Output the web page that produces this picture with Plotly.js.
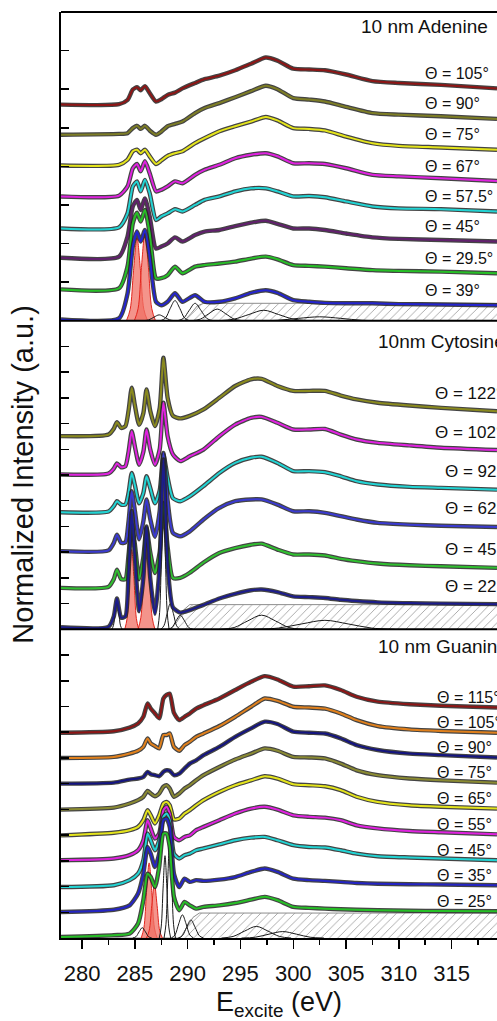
<!DOCTYPE html>
<html><head><meta charset="utf-8">
<script src="https://cdn.plot.ly/plotly-3.0.1.min.js"></script>
<style>html,body{margin:0;padding:0;background:#fff;}#chart{width:497px;height:1021px;}</style>
</head><body><div id="chart"></div>
<script>
// ---------- Adenine panel (top) ----------
const energyA = [278, 283.5, 284.3, 284.8, 285.2, 285.55, 285.95, 286.4, 287.0, 287.5, 288.1, 288.8, 289.5, 290.7, 291.6, 293, 294.5, 296, 297.4, 298.5, 300, 301.5, 303, 305, 307.5, 310, 314, 319.3];
const adenine105 = [5.60, 5.61, 5.72, 5.99, 6.05, 5.97, 6.08, 5.90, 5.68, 5.74, 5.85, 5.91, 6.02, 6.16, 6.26, 6.35, 6.49, 6.66, 6.82, 6.74, 6.53, 6.51, 6.49, 6.38, 6.21, 6.16, 6.11, 6.02];
const adenine90  = [4.82, 4.84, 4.86, 4.99, 5.05, 4.97, 5.05, 4.93, 4.82, 4.90, 5.04, 5.10, 5.16, 5.38, 5.51, 5.64, 5.79, 5.95, 6.09, 6.00, 5.77, 5.73, 5.68, 5.54, 5.38, 5.34, 5.30, 5.23];
const adenine75  = [4.02, 4.04, 4.17, 4.39, 4.43, 4.34, 4.43, 4.26, 4.06, 4.15, 4.27, 4.34, 4.39, 4.60, 4.73, 4.91, 5.04, 5.16, 5.28, 5.19, 4.99, 4.97, 4.93, 4.77, 4.60, 4.53, 4.49, 4.43];
const adenine67  = [3.22, 3.24, 3.48, 3.95, 4.06, 3.87, 4.13, 3.82, 3.35, 3.39, 3.48, 3.61, 3.56, 3.78, 3.91, 4.04, 4.21, 4.30, 4.34, 4.26, 4.08, 4.08, 4.06, 3.95, 3.78, 3.74, 3.69, 3.62];
const adenine575 = [2.39, 2.42, 2.78, 3.48, 3.61, 3.35, 3.65, 3.30, 2.61, 2.70, 2.78, 2.89, 2.83, 3.00, 3.13, 3.22, 3.35, 3.43, 3.43, 3.35, 3.22, 3.23, 3.20, 3.09, 2.96, 2.91, 2.89, 2.83];
const adenine45  = [1.63, 1.66, 2.18, 2.96, 3.13, 2.87, 3.17, 2.70, 1.87, 1.92, 2.00, 2.16, 2.05, 2.22, 2.31, 2.35, 2.45, 2.54, 2.59, 2.51, 2.39, 2.39, 2.35, 2.26, 2.16, 2.12, 2.09, 2.05];
const adenine295 = [0.81, 0.84, 1.40, 2.52, 2.80, 2.57, 2.87, 2.26, 1.10, 1.10, 1.18, 1.40, 1.23, 1.40, 1.44, 1.48, 1.53, 1.61, 1.66, 1.59, 1.44, 1.42, 1.40, 1.36, 1.31, 1.29, 1.27, 1.23];
const adenine39  = [0.03, 0.06, 0.70, 1.92, 2.31, 2.05, 2.35, 1.66, 0.49, 0.40, 0.49, 0.71, 0.49, 0.66, 0.49, 0.49, 0.58, 0.72, 0.79, 0.72, 0.53, 0.49, 0.46, 0.45, 0.45, 0.43, 0.42, 0.40];
const adenineAngles = ['Θ = 105°', 'Θ = 90°', 'Θ = 75°', 'Θ = 67°', 'Θ = 57.5°', 'Θ = 45°', 'Θ = 29.5°', 'Θ = 39°'];
// fit components (Adenine, bottom spectrum)
const adenineStepE = [278, 289.7, 290.3, 290.9, 291.5, 319.3];
const adenineStepV = [0, 0, 0.18, 0.38, 0.45, 0.45];
const adeninePi1E = [284.2, 284.55, 284.87, 285.2, 285.53, 285.85, 286.2];
const adeninePi1V = [0, 0.29, 1.30, 2.14, 1.30, 0.29, 0];
const adeninePi2E = [284.95, 285.3, 285.62, 285.95, 286.28, 286.6, 286.95];
const adeninePi2V = [0, 0.31, 1.38, 2.27, 1.38, 0.31, 0];
const adenineG1E = [285.8, 286.3, 286.8, 287.3, 287.8, 288.3, 288.8];
const adenineG1V = [0, 0.02, 0.09, 0.15, 0.09, 0.02, 0];
const adenineG2E = [287.45, 287.9, 288.35, 288.8, 289.25, 289.7, 290.15];
const adenineG2V = [0, 0.07, 0.32, 0.52, 0.32, 0.07, 0];
const adenineG3E = [289.05, 289.6, 290.15, 290.7, 291.25, 291.8, 292.35];
const adenineG3V = [0, 0.06, 0.27, 0.45, 0.27, 0.06, 0];
const adenineG4E = [290.4, 291.2, 292.0, 292.8, 293.6, 294.4, 295.2];
const adenineG4V = [0, 0.04, 0.18, 0.30, 0.18, 0.04, 0];
const adenineG5E = [293, 294.4, 295.8, 297.2, 298.6, 300, 301.4];
const adenineG5V = [0, 0.04, 0.16, 0.27, 0.16, 0.04, 0];
const adenineG6E = [296.5, 298.5, 300.5, 302.5, 304.5, 306.5, 308.5];
const adenineG6V = [0, 0.01, 0.06, 0.10, 0.06, 0.01, 0];

// ---------- Cytosine panel (middle) ----------
const energyC = [278, 282.5, 283.0, 283.3, 283.7, 284.1, 284.4, 284.7, 285.0, 285.4, 285.8, 286.1, 286.45, 286.9, 287.35, 287.7, 288.1, 288.6, 289.3, 290.2, 291.5, 293, 294.5, 296, 297, 298.5, 300, 301.5, 303, 304.5, 306, 308, 311, 314, 319.3];
const cytosine122 = [7.51, 7.57, 7.80, 8.05, 7.83, 7.90, 8.50, 9.39, 8.70, 7.95, 8.40, 9.33, 8.50, 7.90, 8.60, 10.56, 9.00, 8.30, 8.20, 8.30, 8.55, 9.00, 9.46, 9.72, 9.74, 9.46, 9.27, 9.27, 9.27, 9.09, 8.94, 8.81, 8.70, 8.61, 8.48];
const cytosine102 = [6.02, 6.06, 6.25, 6.45, 6.30, 6.34, 6.90, 7.70, 7.10, 6.40, 6.90, 7.77, 7.00, 6.40, 7.00, 8.81, 7.50, 6.80, 6.54, 6.73, 6.99, 7.51, 7.96, 8.22, 8.26, 8.03, 7.77, 7.77, 7.79, 7.57, 7.38, 7.25, 7.15, 7.06, 6.97];
const cytosine92  = [4.55, 4.58, 4.79, 4.98, 4.85, 4.85, 5.30, 6.08, 5.60, 4.90, 5.30, 5.95, 5.50, 4.90, 5.40, 6.80, 5.90, 5.10, 4.98, 5.17, 5.57, 6.08, 6.47, 6.67, 6.71, 6.47, 6.15, 6.15, 6.11, 5.95, 5.76, 5.63, 5.54, 5.50, 5.43];
const cytosine62  = [3.04, 3.07, 3.36, 3.68, 3.36, 3.38, 4.20, 5.37, 4.60, 3.50, 4.20, 5.05, 4.30, 3.60, 4.60, 6.86, 5.00, 3.75, 3.62, 3.81, 4.27, 4.72, 4.98, 5.05, 5.05, 4.85, 4.59, 4.59, 4.53, 4.40, 4.27, 4.14, 4.07, 4.03, 3.98];
const cytosine45  = [1.61, 1.65, 1.95, 2.32, 1.95, 1.95, 2.90, 4.07, 3.30, 1.95, 2.80, 3.94, 3.00, 2.19, 3.00, 4.90, 3.20, 2.00, 2.00, 2.20, 2.60, 2.97, 3.16, 3.29, 3.33, 3.10, 2.91, 2.91, 2.87, 2.74, 2.65, 2.56, 2.49, 2.45, 2.39];
const cytosine22  = [0.08, 0.10, 0.50, 1.20, 0.45, 0.50, 2.20, 4.60, 2.80, 0.70, 2.00, 4.00, 2.00, 0.60, 2.50, 6.60, 2.50, 0.85, 0.65, 0.75, 0.95, 1.20, 1.38, 1.52, 1.55, 1.45, 1.28, 1.25, 1.22, 1.15, 1.10, 1.05, 1.02, 1.00, 0.98];
const cytosineAngles = ['Θ = 122°', 'Θ = 102°', 'Θ = 92°', 'Θ = 62°', 'Θ = 45°', 'Θ = 22°'];
const cytosineStepE = [278, 288.4, 289.0, 289.6, 290.2, 319.3];
const cytosineStepV = [0, 0, 0.30, 0.75, 0.96, 0.96];
const cytosinePi1E = [284.04, 284.26, 284.48, 284.7, 284.92, 285.14, 285.36];
const cytosinePi1V = [0, 0.42, 1.88, 3.10, 1.88, 0.42, 0];
const cytosinePi2E = [285.3, 285.56, 285.83, 286.1, 286.37, 286.64, 286.9];
const cytosinePi2V = [0, 0.45, 2.05, 3.37, 2.05, 0.45, 0];
const cytosineG1E = [282.8, 282.96, 283.13, 283.3, 283.47, 283.64, 283.8];
const cytosineG1V = [0, 0.14, 0.64, 1.05, 0.64, 0.14, 0];
const cytosineG2E = [287.16, 287.34, 287.52, 287.7, 287.88, 288.06, 288.24];
const cytosineG2V = [0, 0.65, 2.91, 4.80, 2.91, 0.65, 0];
const cytosineG3E = [287.45, 287.75, 288.05, 288.35, 288.65, 288.95, 289.25];
const cytosineG3V = [0, 0.14, 0.61, 1.00, 0.61, 0.14, 0];
const cytosineG4E = [288.1, 288.5, 288.9, 289.3, 289.7, 290.1, 290.5];
const cytosineG4V = [0, 0.07, 0.33, 0.55, 0.33, 0.07, 0];
const cytosineG5E = [293.1, 294.4, 295.7, 297, 298.3, 299.6, 300.9];
const cytosineG5V = [0, 0.07, 0.33, 0.55, 0.33, 0.07, 0];
const cytosineG6E = [296.4, 298.6, 300.8, 303, 305.2, 307.4, 309.6];
const cytosineG6V = [0, 0.05, 0.21, 0.35, 0.21, 0.05, 0];

// ---------- Guanine panel (bottom) ----------
const energyG = [278, 283, 284.5, 285.3, 285.8, 286.2, 286.5, 286.9, 287.3, 287.7, 288.0, 288.3, 288.7, 289.2, 289.7, 290.2, 290.8, 291.5, 293, 294.5, 296, 297.3, 298.5, 300, 301.5, 303, 304.5, 306, 308, 311, 314, 319.3];
const guanine115 = [7.98, 8.04, 8.18, 8.34, 8.60, 9.12, 8.92, 8.73, 8.54, 9.31, 9.45, 9.50, 8.75, 8.47, 8.60, 8.73, 8.92, 9.05, 9.31, 9.64, 9.96, 10.18, 10.05, 9.77, 9.79, 9.82, 9.64, 9.38, 9.19, 9.09, 9.03, 8.96];
const guanine105 = [7.00, 7.04, 7.17, 7.28, 7.43, 7.76, 7.56, 7.46, 7.37, 7.89, 7.89, 7.95, 7.43, 7.28, 7.50, 7.63, 7.82, 7.95, 8.24, 8.60, 8.99, 9.31, 9.22, 8.99, 8.96, 8.92, 8.73, 8.47, 8.24, 8.11, 8.05, 7.98];
const guanine90  = [6.00, 6.04, 6.16, 6.20, 6.26, 6.46, 6.37, 6.33, 6.29, 6.46, 6.52, 6.50, 6.33, 6.39, 6.59, 6.78, 6.91, 7.11, 7.43, 7.82, 8.15, 8.41, 8.32, 8.02, 7.98, 7.95, 7.76, 7.50, 7.31, 7.17, 7.11, 7.02];
const guanine75  = [4.99, 5.07, 5.23, 5.36, 5.49, 5.72, 5.62, 5.51, 5.62, 5.88, 5.94, 5.81, 5.49, 5.62, 5.81, 5.94, 6.13, 6.33, 6.65, 6.94, 7.17, 7.37, 7.28, 7.04, 7.02, 6.98, 6.78, 6.52, 6.33, 6.20, 6.13, 6.04];
const guanine65  = [3.99, 4.09, 4.19, 4.32, 4.58, 4.97, 4.77, 4.45, 4.77, 5.23, 5.29, 5.16, 4.61, 4.64, 4.84, 4.97, 5.16, 5.36, 5.68, 5.94, 6.13, 6.29, 6.20, 5.98, 5.94, 5.90, 5.75, 5.49, 5.29, 5.16, 5.10, 5.03];
const guanine55  = [3.02, 3.09, 3.22, 3.41, 3.80, 4.58, 4.26, 3.87, 4.06, 4.97, 5.10, 4.84, 3.93, 3.80, 3.93, 3.99, 4.19, 4.32, 4.58, 4.84, 5.03, 5.10, 4.99, 4.77, 4.71, 4.68, 4.58, 4.38, 4.26, 4.16, 4.11, 4.03];
const guanine45  = [1.98, 2.05, 2.25, 2.50, 3.02, 4.06, 3.80, 3.41, 3.80, 4.71, 4.84, 4.58, 3.28, 3.09, 3.22, 3.28, 3.41, 3.48, 3.64, 3.80, 3.90, 3.93, 3.80, 3.61, 3.54, 3.52, 3.41, 3.28, 3.18, 3.13, 3.09, 3.02];
const guanine35  = [1.01, 1.10, 1.27, 1.73, 2.50, 3.54, 3.28, 2.76, 3.28, 4.58, 4.64, 4.32, 2.50, 1.98, 2.31, 2.18, 2.25, 2.22, 2.27, 2.37, 2.57, 2.70, 2.57, 2.31, 2.25, 2.22, 2.18, 2.14, 2.11, 2.09, 2.08, 2.05];
const guanine25  = [0.04, 0.11, 0.17, 0.56, 1.47, 2.50, 2.37, 1.98, 2.76, 4.06, 4.06, 3.54, 1.60, 1.08, 1.40, 1.27, 1.14, 1.21, 1.27, 1.36, 1.49, 1.60, 1.47, 1.21, 1.17, 1.14, 1.12, 1.10, 1.08, 1.06, 1.05, 1.04];
const guanineAngles = ['Θ = 115°', 'Θ = 105°', 'Θ = 90°', 'Θ = 75°', 'Θ = 65°', 'Θ = 55°', 'Θ = 45°', 'Θ = 35°', 'Θ = 25°'];
const guanineStepE = [278, 289.3, 289.9, 290.5, 291.1, 319.3];
const guanineStepV = [0, 0, 0.40, 0.80, 0.97, 0.97];
const guaninePi1E = [285.6, 285.85, 286.1, 286.35, 286.6, 286.85, 287.1];
const guaninePi1V = [0, 0.39, 1.77, 2.92, 1.77, 0.39, 0];
const guaninePi2E = [286.1, 286.35, 286.6, 286.85, 287.1, 287.35, 287.6];
const guaninePi2V = [0, 0.28, 1.27, 2.10, 1.27, 0.28, 0];
const guanineG1E = [284.8, 285.1, 285.4, 285.7, 286.0, 286.3, 286.6];
const guanineG1V = [0, 0.05, 0.24, 0.40, 0.24, 0.05, 0];
const guanineG2E = [287.31, 287.49, 287.67, 287.85, 288.03, 288.21, 288.39];
const guanineG2V = [0, 0.43, 1.94, 3.20, 1.94, 0.43, 0];
const guanineG3E = [287.76, 287.94, 288.12, 288.3, 288.48, 288.66, 288.84];
const guanineG3V = [0, 0.53, 2.37, 3.90, 2.37, 0.53, 0];
const guanineG4E = [288.45, 288.8, 289.15, 289.5, 289.85, 290.2, 290.55];
const guanineG4V = [0, 0.12, 0.55, 0.90, 0.55, 0.12, 0];
const guanineG5E = [289.1, 289.5, 289.9, 290.3, 290.7, 291.1, 291.5];
const guanineG5V = [0, 0.09, 0.42, 0.70, 0.42, 0.09, 0];
const guanineG6E = [293.2, 294.3, 295.4, 296.5, 297.6, 298.7, 299.8];
const guanineG6V = [0, 0.06, 0.27, 0.45, 0.27, 0.06, 0];
const guanineG7E = [295.1, 296.4, 297.7, 299, 300.3, 301.6, 302.9];
const guanineG7V = [0, 0.03, 0.15, 0.25, 0.15, 0.03, 0];

const xTickVals = [280, 285, 290, 295, 300, 305, 310, 315];

// ---------- drawing ----------
const FONT = '"Liberation Sans", Arial, Helvetica, sans-serif';
const traces = [];
function addStep(E, V, ya) {
  traces.push({x: E, y: V, xaxis: 'x', yaxis: ya, mode: 'lines', fill: 'tozeroy',
    fillcolor: 'rgba(255,255,255,1)',
    fillpattern: {shape: '/', fgcolor: '#8c8c8c', bgcolor: 'rgba(255,255,255,1)', size: 6, solidity: 0.12},
    line: {color: '#8c8c8c', width: 1}, hoverinfo: 'skip'});
}
function addPi(E, V, ya) {
  traces.push({x: E, y: V, xaxis: 'x', yaxis: ya, mode: 'lines', fill: 'tozeroy',
    fillcolor: 'rgba(240,112,100,0.75)', line: {color: '#e3261e', width: 1, shape: 'spline', smoothing: 1}, hoverinfo: 'skip'});
}
function addComp(E, V, ya) {
  traces.push({x: E, y: V, xaxis: 'x', yaxis: ya, mode: 'lines',
    line: {color: '#1a1a1a', width: 1, shape: 'spline', smoothing: 1}, hoverinfo: 'skip'});
}
function addCurve(E, V, color, ya) {
  traces.push({x: E, y: V, xaxis: 'x', yaxis: ya, mode: 'lines',
    line: {color: 'rgba(35,35,35,0.85)', width: 4.4, shape: 'spline', smoothing: 0.6}, hoverinfo: 'skip'});
  traces.push({x: E, y: V, xaxis: 'x', yaxis: ya, mode: 'lines',
    line: {color: color, width: 2, shape: 'spline', smoothing: 0.6}});
}

const panels = [
  {ya: 'y3', E: energyA, title: '10 nm Adenine', titleX: 306.3, titleY: 7.63,
   series: [adenine105, adenine90, adenine75, adenine67, adenine575, adenine45, adenine295, adenine39],
   colors: ['#8e1515', '#7d7d25', '#e4e41c', '#e022e0', '#22d4d4', '#62206e', '#26c026', '#2424d0'],
   angles: adenineAngles, labelMode: 'left', labelX: 312.4, shift: 15, labelSize: 16,
   step: [adenineStepE, adenineStepV], pis: [[adeninePi1E, adeninePi1V], [adeninePi2E, adeninePi2V]],
   comps: [[adenineG1E, adenineG1V], [adenineG2E, adenineG2V], [adenineG3E, adenineG3V], [adenineG4E, adenineG4V], [adenineG5E, adenineG5V], [adenineG6E, adenineG6V]]},
  {ya: 'y2', E: energyC, title: '10nm Cytosine', titleX: 307.9, titleY: 11.2,
   series: [cytosine122, cytosine102, cytosine92, cytosine62, cytosine45, cytosine22],
   colors: ['#8a8a1e', '#e022e0', '#22d4d4', '#3a3ad0', '#30c030', '#1c1c8c'],
   angles: cytosineAngles, labelMode: 'right', shift: 18, labelSize: 17,
   step: [cytosineStepE, cytosineStepV], pis: [[cytosinePi1E, cytosinePi1V], [cytosinePi2E, cytosinePi2V]],
   comps: [[cytosineG1E, cytosineG1V], [cytosineG2E, cytosineG2V], [cytosineG3E, cytosineG3V], [cytosineG4E, cytosineG4V], [cytosineG5E, cytosineG5V], [cytosineG6E, cytosineG6V]]},
  {ya: 'y', E: energyG, title: '10 nm Guanine', titleX: 307.9, titleY: 11.32,
   series: [guanine115, guanine105, guanine90, guanine75, guanine65, guanine55, guanine45, guanine35, guanine25],
   colors: ['#8e1515', '#e0801c', '#141480', '#8a8a32', '#e4e41c', '#e022e0', '#22d4d4', '#2424c4', '#26c026'],
   angles: guanineAngles, labelMode: 'left', labelX: 313.5, shift: 10, labelSize: 16,
   step: [guanineStepE, guanineStepV], pis: [[guaninePi1E, guaninePi1V], [guaninePi2E, guaninePi2V]],
   comps: [[guanineG1E, guanineG1V], [guanineG2E, guanineG2V], [guanineG3E, guanineG3V], [guanineG4E, guanineG4V], [guanineG5E, guanineG5V], [guanineG6E, guanineG6V], [guanineG7E, guanineG7V]]}
];

const annotations = [];
panels.forEach(p => {
  addStep(p.step[0], p.step[1], p.ya);
  p.pis.forEach(c => addPi(c[0], c[1], p.ya));
  p.comps.forEach(c => addComp(c[0], c[1], p.ya));
  p.series.forEach((s, i) => addCurve(p.E, s, p.colors[i], p.ya));
  annotations.push({xref: 'x', yref: p.ya, x: p.titleX, y: p.titleY, text: p.title,
    showarrow: false, xanchor: 'left', yanchor: 'middle', borderpad: 0,
    font: {family: FONT, size: 19, color: '#111'}});
  p.series.forEach((s, i) => {
    const a = {yref: p.ya, y: s[s.length - 1], yshift: p.shift, text: p.angles[i], showarrow: false,
      yanchor: 'middle', borderpad: 0, font: {family: FONT, size: p.labelSize, color: '#111'}};
    if (p.labelMode === 'left') { a.xref = 'x'; a.x = p.labelX; a.xanchor = 'left'; }
    else { a.xref = 'paper'; a.x = 1.016; a.xanchor = 'right'; }
    annotations.push(a);
  });
});
annotations.push({xref: 'paper', yref: 'paper', x: -0.088, y: 0.5, text: 'Normalized Intensity (a.u.)',
  textangle: -90, showarrow: false, xanchor: 'center', yanchor: 'middle', font: {family: FONT, size: 29, color: '#111'}});

const yCommon = {showline: true, linecolor: '#000', linewidth: 2, ticks: 'inside', ticklen: 8, tickwidth: 1.5,
  tickcolor: '#000', showticklabels: false, showgrid: false, zeroline: false, fixedrange: true, anchor: 'x'};

const layout = {
  width: 497, height: 1021, margin: {l: 61, r: 0, t: 12, b: 83},
  paper_bgcolor: '#fff', plot_bgcolor: '#fff', showlegend: false,
  font: {family: FONT, color: '#111'},
  xaxis: {range: [278, 319.3], anchor: 'y', showline: true, linecolor: '#000', linewidth: 2,
    ticks: 'outside', ticklen: 9, tickwidth: 1.5, tickcolor: '#000', tickmode: 'array', tickvals: xTickVals,
    ticklabelstandoff: 6,
    tickfont: {family: FONT, size: 22, color: '#111'},
    minor: {ticks: 'outside', dtick: 2.5, tick0: 280, ticklen: 5, tickwidth: 1.5, tickcolor: '#000', showgrid: false},
    showgrid: false, zeroline: false,
    title: {text: 'E<sub>excite</sub> (eV)', font: {family: FONT, size: 27, color: '#111'}, standoff: 9}},
  yaxis: Object.assign({}, yCommon, {domain: [0, 1/3], range: [0, 12], tickvals: [1,2,3,4,5,6,7,8,9,10,11]}),
  yaxis2: Object.assign({}, yCommon, {domain: [1/3, 2/3], range: [0, 12], tickvals: [1,2,3,4,5,6,7,8,9,10,11]}),
  yaxis3: Object.assign({}, yCommon, {domain: [2/3, 1], range: [0, 8], tickvals: [1,2,3,4,5,6,7]}),
  shapes: [1/3, 2/3, 1].map(v => ({type: 'line', xref: 'paper', yref: 'paper', x0: 0, x1: 1, y0: v, y1: v,
    line: {color: '#000', width: 2}})),
  annotations: annotations
};

Plotly.newPlot('chart', traces, layout, {displayModeBar: false, staticPlot: true});
</script></body></html>
